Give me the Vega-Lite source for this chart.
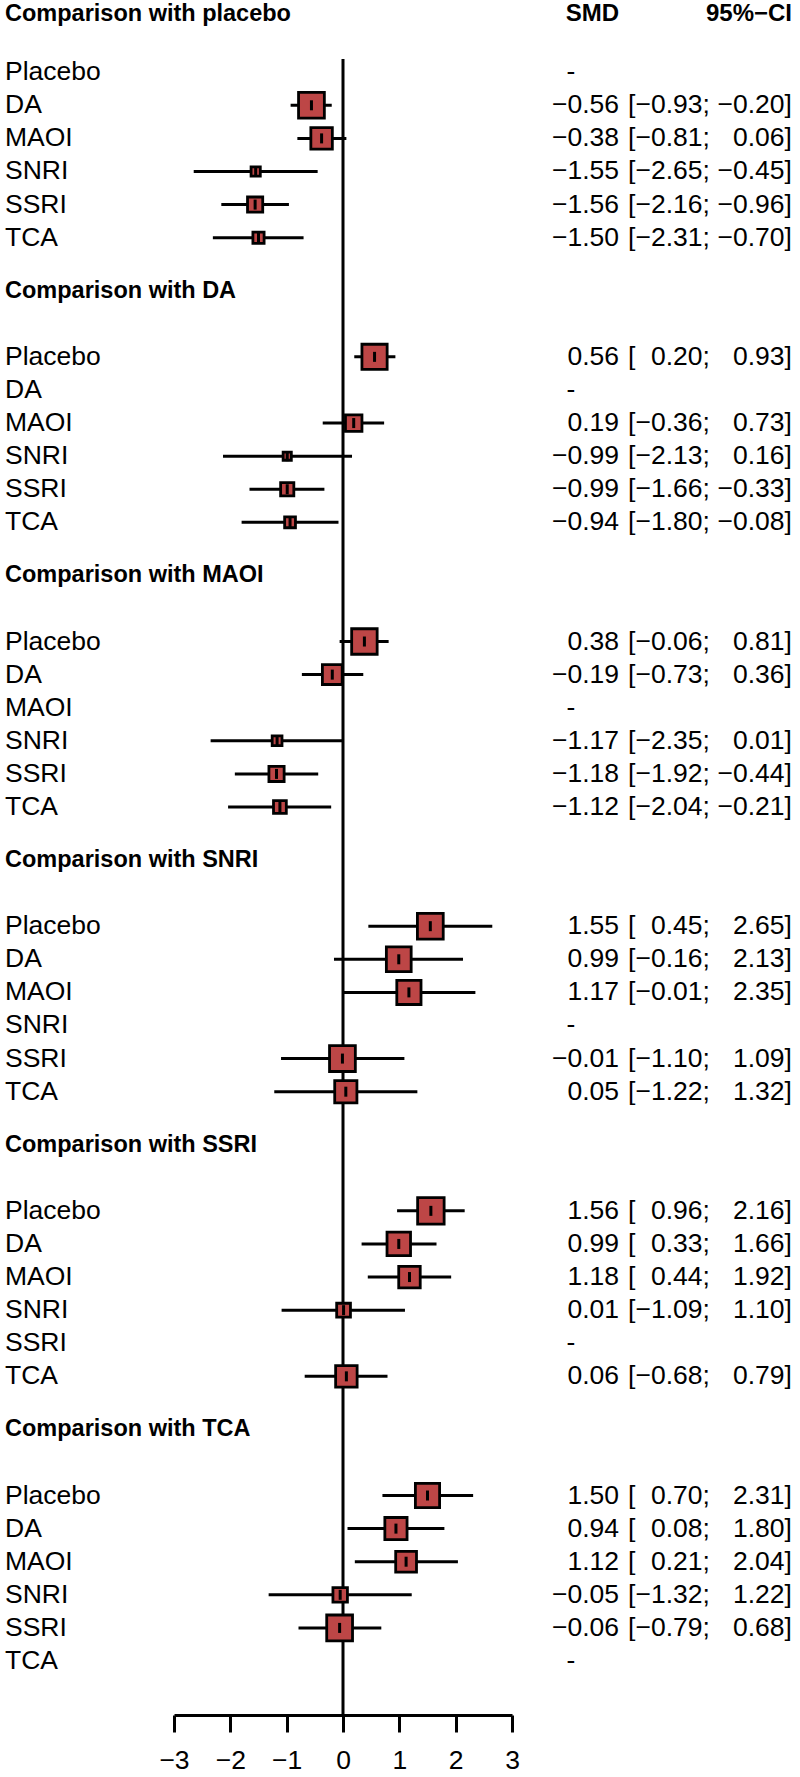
{
  "$schema": "https://vega.github.io/schema/vega-lite/v6.json",
  "width": 800,
  "height": 1715,
  "autosize": {"type": "none"},
  "padding": {"left": 0, "top": 0, "right": 0, "bottom": 62},
  "background": "white",
  "config": {"view": {"stroke": null}, "font": "Liberation Sans"},
  "datasets": {
    "items": [
      {"row": 2, "t": "Placebo", "smd": null, "lo": null, "hi": null, "w": null},
      {"row": 3, "t": "DA", "smd": -0.56, "lo": -0.93, "hi": -0.20, "w": 0.666},
      {"row": 4, "t": "MAOI", "smd": -0.38, "lo": -0.81, "hi": 0.06, "w": 0.462},
      {"row": 5, "t": "SNRI", "smd": -1.55, "lo": -2.65, "hi": -0.45, "w": 0.085},
      {"row": 6, "t": "SSRI", "smd": -1.56, "lo": -2.16, "hi": -0.96, "w": 0.231},
      {"row": 7, "t": "TCA", "smd": -1.50, "lo": -2.31, "hi": -0.70, "w": 0.125},
      {"row": 10.6, "t": "Placebo", "smd": 0.56, "lo": 0.20, "hi": 0.93, "w": 0.635},
      {"row": 11.6, "t": "DA", "smd": null, "lo": null, "hi": null, "w": null},
      {"row": 12.6, "t": "MAOI", "smd": 0.19, "lo": -0.36, "hi": 0.73, "w": 0.272},
      {"row": 13.6, "t": "SNRI", "smd": -0.99, "lo": -2.13, "hi": 0.16, "w": 0.067},
      {"row": 14.6, "t": "SSRI", "smd": -0.99, "lo": -1.66, "hi": -0.33, "w": 0.174},
      {"row": 15.6, "t": "TCA", "smd": -0.94, "lo": -1.80, "hi": -0.08, "w": 0.117},
      {"row": 19.2, "t": "Placebo", "smd": 0.38, "lo": -0.06, "hi": 0.81, "w": 0.650},
      {"row": 20.2, "t": "DA", "smd": -0.19, "lo": -0.73, "hi": 0.36, "w": 0.392},
      {"row": 21.2, "t": "MAOI", "smd": null, "lo": null, "hi": null, "w": null},
      {"row": 22.2, "t": "SNRI", "smd": -1.17, "lo": -2.35, "hi": 0.01, "w": 0.096},
      {"row": 23.2, "t": "SSRI", "smd": -1.18, "lo": -1.92, "hi": -0.44, "w": 0.231},
      {"row": 24.2, "t": "TCA", "smd": -1.12, "lo": -2.04, "hi": -0.21, "w": 0.164},
      {"row": 27.8, "t": "Placebo", "smd": 1.55, "lo": 0.45, "hi": 2.65, "w": 0.666},
      {"row": 28.8, "t": "DA", "smd": 0.99, "lo": -0.16, "hi": 2.13, "w": 0.615},
      {"row": 29.8, "t": "MAOI", "smd": 1.17, "lo": -0.01, "hi": 2.35, "w": 0.586},
      {"row": 30.8, "t": "SNRI", "smd": null, "lo": null, "hi": null, "w": null},
      {"row": 31.8, "t": "SSRI", "smd": -0.01, "lo": -1.10, "hi": 1.09, "w": 0.666},
      {"row": 32.8, "t": "TCA", "smd": 0.05, "lo": -1.22, "hi": 1.32, "w": 0.493},
      {"row": 36.4, "t": "Placebo", "smd": 1.56, "lo": 0.96, "hi": 2.16, "w": 0.702},
      {"row": 37.4, "t": "DA", "smd": 0.99, "lo": 0.33, "hi": 1.66, "w": 0.552},
      {"row": 38.4, "t": "MAOI", "smd": 1.18, "lo": 0.44, "hi": 1.92, "w": 0.462},
      {"row": 39.4, "t": "SNRI", "smd": 0.01, "lo": -1.09, "hi": 1.10, "w": 0.190},
      {"row": 40.4, "t": "SSRI", "smd": null, "lo": null, "hi": null, "w": null},
      {"row": 41.4, "t": "TCA", "smd": 0.06, "lo": -0.68, "hi": 0.79, "w": 0.462},
      {"row": 45, "t": "Placebo", "smd": 1.50, "lo": 0.70, "hi": 2.31, "w": 0.586},
      {"row": 46, "t": "DA", "smd": 0.94, "lo": 0.08, "hi": 1.80, "w": 0.493},
      {"row": 47, "t": "MAOI", "smd": 1.12, "lo": 0.21, "hi": 2.04, "w": 0.433},
      {"row": 48, "t": "SNRI", "smd": -0.05, "lo": -1.32, "hi": 1.22, "w": 0.210},
      {"row": 49, "t": "SSRI", "smd": -0.06, "lo": -0.79, "hi": 0.68, "w": 0.666},
      {"row": 50, "t": "TCA", "smd": null, "lo": null, "hi": null, "w": null}
    ],
    "heads": [
      {"row": 0.25, "title": "Comparison with placebo"},
      {"row": 8.6, "title": "Comparison with DA"},
      {"row": 17.2, "title": "Comparison with MAOI"},
      {"row": 25.8, "title": "Comparison with SNRI"},
      {"row": 34.4, "title": "Comparison with SSRI"},
      {"row": 43, "title": "Comparison with TCA"}
    ]
  },
  "layer": [
    {
      "data": {"values": [{"ref": 0, "top": 1.6, "bottom": 51.63}]},
      "mark": {"type": "rule", "color": "black", "strokeWidth": 3},
      "encoding": {
        "x": {"field": "ref", "type": "quantitative", "scale": {"domain": [-3, 3], "range": [174, 512], "nice": false, "zero": false}, "title": null},
        "y": {"field": "top", "type": "quantitative", "scale": {"domain": [-0.181, 51.631], "reverse": true, "nice": false, "zero": false}, "axis": null},
        "y2": {"field": "bottom"}
      }
    },
    {
      "data": {"name": "items"},
      "transform": [{"filter": "isValid(datum.smd)"}],
      "mark": {"type": "rule", "color": "black", "strokeWidth": 3},
      "encoding": {
        "x": {"field": "lo", "type": "quantitative", "scale": {"domain": [-3, 3], "range": [174, 512], "nice": false, "zero": false}, "title": null,
              "axis": {"values": [-3, -2, -1, 0, 1, 2, 3], "format": "d", "grid": false, "title": null, "tickSize": 17, "tickWidth": 3, "tickColor": "black", "domainColor": "black", "domainWidth": 3, "labelFontSize": 26.5, "labelFont": "Liberation Sans", "labelColor": "black", "labelPadding": 15, "labelFlush": false, "labelOverlap": false}},
        "x2": {"field": "hi"},
        "y": {"field": "row", "type": "quantitative", "scale": {"domain": [-0.181, 51.631], "reverse": true, "nice": false, "zero": false}, "axis": null}
      }
    },
    {
      "data": {"name": "items"},
      "transform": [{"filter": "isValid(datum.smd)"}],
      "mark": {"type": "point", "shape": "square", "filled": true, "fill": "#BD4646", "stroke": "black", "strokeWidth": 2.8, "opacity": 1},
      "encoding": {
        "x": {"field": "smd", "type": "quantitative", "scale": {"domain": [-3, 3], "range": [174, 512], "nice": false, "zero": false}, "title": null},
        "y": {"field": "row", "type": "quantitative", "scale": {"domain": [-0.181, 51.631], "reverse": true, "nice": false, "zero": false}, "axis": null},
        "size": {"field": "w", "type": "quantitative", "scale": {"domain": [0, 1], "range": [0, 1000]}, "legend": null}
      }
    },
    {
      "data": {"name": "items"},
      "transform": [{"filter": "isValid(datum.smd)"}],
      "mark": {"type": "point", "shape": "M0,-1L0,1", "filled": false, "stroke": "black", "strokeWidth": 3, "size": 100, "opacity": 1},
      "encoding": {
        "x": {"field": "smd", "type": "quantitative", "scale": {"domain": [-3, 3], "range": [174, 512], "nice": false, "zero": false}, "title": null},
        "y": {"field": "row", "type": "quantitative", "scale": {"domain": [-0.181, 51.631], "reverse": true, "nice": false, "zero": false}, "axis": null}
      }
    },
    {
      "data": {"name": "items"},
      "mark": {"type": "text", "align": "left", "baseline": "middle", "fontSize": 26.5, "font": "Liberation Sans", "color": "black"},
      "encoding": {
        "x": {"value": 5},
        "y": {"field": "row", "type": "quantitative", "scale": {"domain": [-0.181, 51.631], "reverse": true, "nice": false, "zero": false}, "axis": null},
        "text": {"field": "t"}
      }
    },
    {
      "data": {"name": "items"},
      "transform": [{"filter": "isValid(datum.smd)"}],
      "mark": {"type": "text", "align": "right", "baseline": "middle", "fontSize": 26.5, "font": "Liberation Sans", "color": "black"},
      "encoding": {
        "x": {"value": 619},
        "y": {"field": "row", "type": "quantitative", "scale": {"domain": [-0.181, 51.631], "reverse": true, "nice": false, "zero": false}, "axis": null},
        "text": {"field": "smd", "type": "quantitative", "format": ".2f"}
      }
    },
    {
      "data": {"name": "items"},
      "transform": [{"filter": "!isValid(datum.smd)"}],
      "mark": {"type": "text", "align": "center", "baseline": "middle", "fontSize": 26.5, "font": "Liberation Sans", "color": "black", "text": "-"},
      "encoding": {
        "x": {"value": 571},
        "y": {"field": "row", "type": "quantitative", "scale": {"domain": [-0.181, 51.631], "reverse": true, "nice": false, "zero": false}, "axis": null}
      }
    },
    {
      "data": {"name": "items"},
      "transform": [{"filter": "isValid(datum.smd)"}],
      "mark": {"type": "text", "align": "left", "baseline": "middle", "fontSize": 26.5, "font": "Liberation Sans", "color": "black", "text": "["},
      "encoding": {
        "x": {"value": 628},
        "y": {"field": "row", "type": "quantitative", "scale": {"domain": [-0.181, 51.631], "reverse": true, "nice": false, "zero": false}, "axis": null}
      }
    },
    {
      "data": {"name": "items"},
      "transform": [{"filter": "isValid(datum.smd)"}],
      "mark": {"type": "text", "align": "right", "baseline": "middle", "fontSize": 26.5, "font": "Liberation Sans", "color": "black"},
      "encoding": {
        "x": {"value": 702.6},
        "y": {"field": "row", "type": "quantitative", "scale": {"domain": [-0.181, 51.631], "reverse": true, "nice": false, "zero": false}, "axis": null},
        "text": {"field": "lo", "type": "quantitative", "format": ".2f"}
      }
    },
    {
      "data": {"name": "items"},
      "transform": [{"filter": "isValid(datum.smd)"}],
      "mark": {"type": "text", "align": "left", "baseline": "middle", "fontSize": 26.5, "font": "Liberation Sans", "color": "black", "text": ";"},
      "encoding": {
        "x": {"value": 702.6},
        "y": {"field": "row", "type": "quantitative", "scale": {"domain": [-0.181, 51.631], "reverse": true, "nice": false, "zero": false}, "axis": null}
      }
    },
    {
      "data": {"name": "items"},
      "transform": [{"filter": "isValid(datum.smd)"}],
      "mark": {"type": "text", "align": "right", "baseline": "middle", "fontSize": 26.5, "font": "Liberation Sans", "color": "black"},
      "encoding": {
        "x": {"value": 784.6},
        "y": {"field": "row", "type": "quantitative", "scale": {"domain": [-0.181, 51.631], "reverse": true, "nice": false, "zero": false}, "axis": null},
        "text": {"field": "hi", "type": "quantitative", "format": ".2f"}
      }
    },
    {
      "data": {"name": "items"},
      "transform": [{"filter": "isValid(datum.smd)"}],
      "mark": {"type": "text", "align": "left", "baseline": "middle", "fontSize": 26.5, "font": "Liberation Sans", "color": "black", "text": "]"},
      "encoding": {
        "x": {"value": 784.6},
        "y": {"field": "row", "type": "quantitative", "scale": {"domain": [-0.181, 51.631], "reverse": true, "nice": false, "zero": false}, "axis": null}
      }
    },
    {
      "data": {"name": "heads"},
      "mark": {"type": "text", "align": "left", "baseline": "middle", "fontSize": 23.5, "fontWeight": "bold", "font": "Liberation Sans", "color": "black"},
      "encoding": {
        "x": {"value": 5},
        "y": {"field": "row", "type": "quantitative", "scale": {"domain": [-0.181, 51.631], "reverse": true, "nice": false, "zero": false}, "axis": null},
        "text": {"field": "title"}
      }
    },
    {
      "data": {"values": [{"row": 0.25, "h": "SMD"}]},
      "mark": {"type": "text", "align": "right", "baseline": "middle", "fontSize": 24, "fontWeight": "bold", "font": "Liberation Sans", "color": "black"},
      "encoding": {
        "x": {"value": 619},
        "y": {"field": "row", "type": "quantitative", "scale": {"domain": [-0.181, 51.631], "reverse": true, "nice": false, "zero": false}, "axis": null},
        "text": {"field": "h"}
      }
    },
    {
      "data": {"values": [{"row": 0.25, "h": "95%−CI"}]},
      "mark": {"type": "text", "align": "right", "baseline": "middle", "fontSize": 24, "fontWeight": "bold", "font": "Liberation Sans", "color": "black"},
      "encoding": {
        "x": {"value": 792},
        "y": {"field": "row", "type": "quantitative", "scale": {"domain": [-0.181, 51.631], "reverse": true, "nice": false, "zero": false}, "axis": null},
        "text": {"field": "h"}
      }
    }
  ]
}
